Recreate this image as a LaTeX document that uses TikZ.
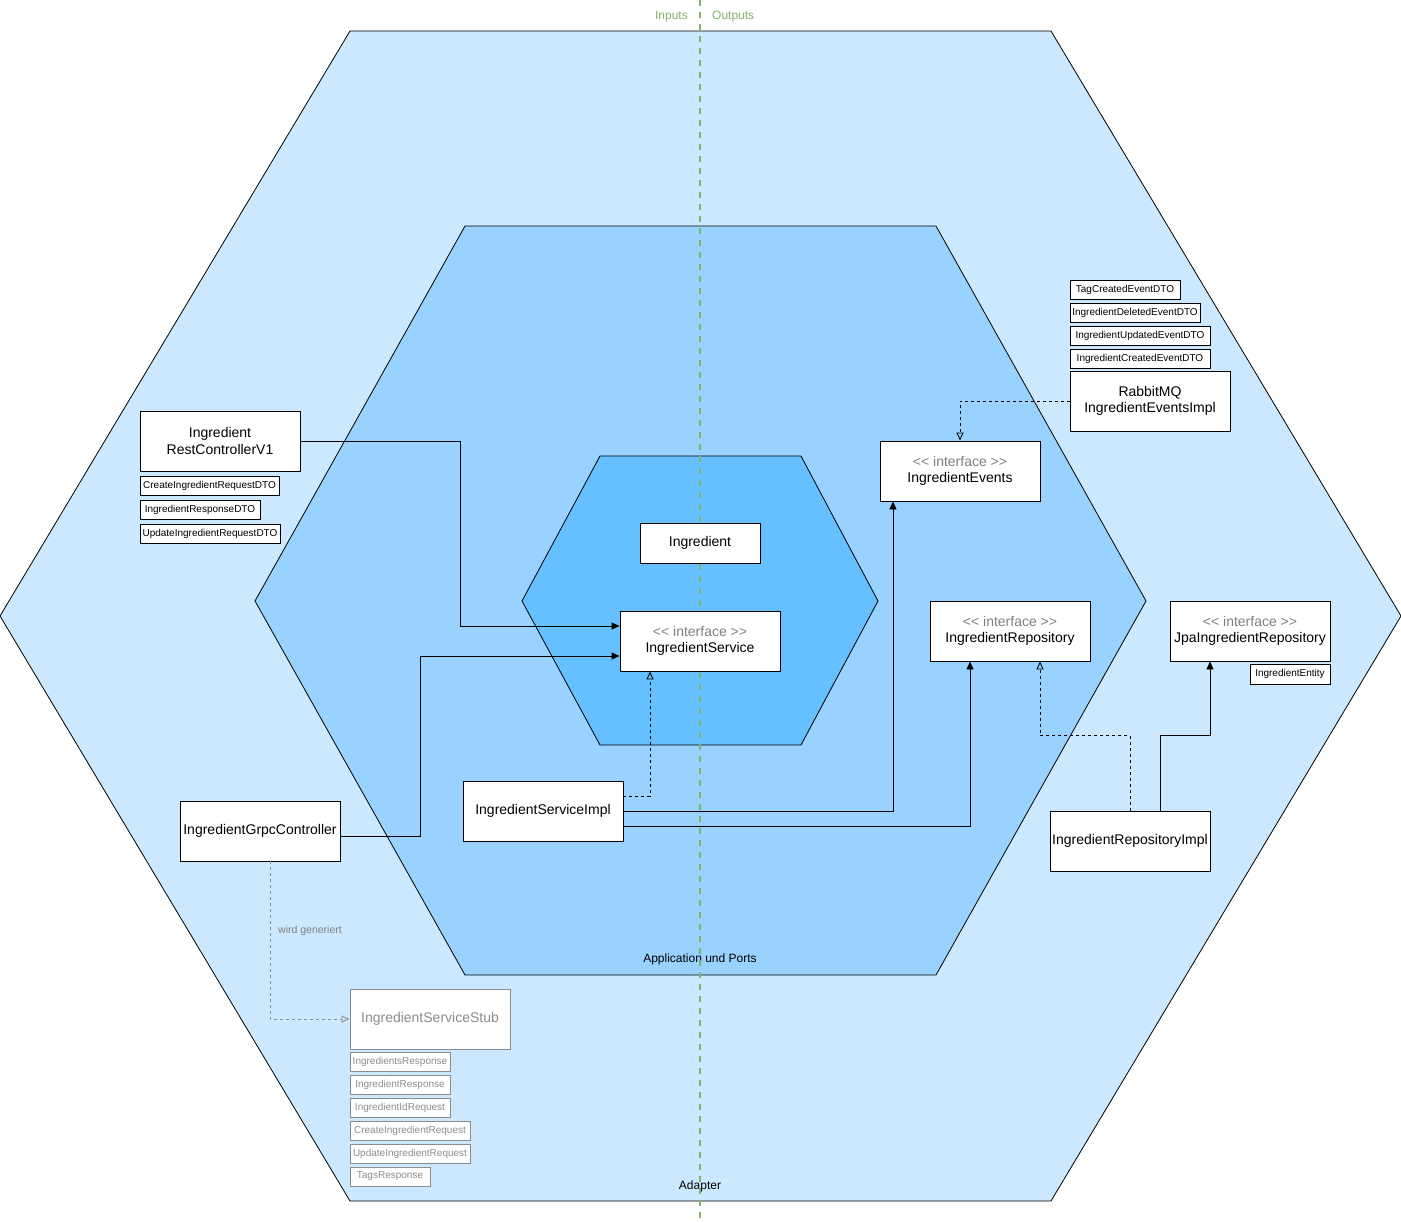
\documentclass[tikz,border=0pt]{standalone}
\usepackage{fontspec}
\setmainfont{Liberation Sans}
\usetikzlibrary{arrows.meta,calc}
\definecolor{outerblue}{RGB}{204,232,255}
\definecolor{midblue}{RGB}{153,209,255}
\definecolor{innerblue}{RGB}{102,191,255}
\definecolor{greenline}{RGB}{130,179,102}
\definecolor{stereo}{RGB}{128,128,128}
\definecolor{stubgray}{RGB}{140,140,140}
\tikzset{
  hexa/.style={draw=black,line width=0.8pt},
  cls/.style={draw=black,fill=white,line width=0.9pt,minimum width=160pt,minimum height=60pt,inner sep=0pt,align=center,font=\fontsize{14}{16.5}\selectfont},
  dto/.style={draw=black,fill=white,line width=0.9pt,minimum height=19pt,inner sep=0pt,font=\fontsize{10}{12}\selectfont},
  stubcls/.style={cls,draw=stubgray,text=stubgray},
  stubdto/.style={dto,draw=stubgray,text=stubgray},
  arr/.style={draw=black,line width=0.9pt,-{Triangle[length=8pt,width=7pt]}},
  impl/.style={draw=black,line width=0.9pt,dash pattern=on 3pt off 3pt,-{Triangle[open,length=8pt,width=7pt]}},
  gen/.style={draw=stubgray,line width=0.9pt,dash pattern=on 3pt off 3pt,-{Triangle[open,length=8pt,width=7pt]}},
  lbl/.style={inner sep=0pt,font=\fontsize{12}{14}\selectfont},
}
\newcommand{\stereotxt}[1]{{\color{stereo}<{}< interface >{}>}\\#1}
\begin{document}
\begin{tikzpicture}[x=1pt,y=-1pt]
\useasboundingbox (0,0) rectangle (1401,1223);
% hexagons
\path[hexa,fill=outerblue] (350,31) -- (1051,31) -- (1401,616) -- (1051,1201) -- (350,1201) -- (0,616) -- cycle;
\path[hexa,fill=midblue] (465,226) -- (936,226) -- (1146,601) -- (936,975) -- (465,975) -- (255,601) -- cycle;
\path[hexa,fill=innerblue] (600,456) -- (801,456) -- (878,601) -- (801,745) -- (600,745) -- (522,601) -- cycle;

\node[lbl] (applbl) at (700,959) {Application und Ports};
\node[lbl] (adaplbl) at (700,1186) {Adapter};

% inputs / outputs divider
\coordinate (dtop) at (700,0);
\coordinate (dbot) at (700,1223);
\draw[greenline,line width=2pt,dash pattern=on 6pt off 6pt] (dtop) -- (dbot);
\node[lbl,text=greenline,anchor=east] (inlbl) at (688,17) {Inputs};
\node[lbl,text=greenline,anchor=west] (outlbl) at (712,17) {Outputs};

% classes
\node[cls] (rest) at (220,441) {Ingredient\\RestControllerV1};
\node[dto,minimum width=139pt] (d1) at (209.5,485.5) {CreateIngredientRequestDTO};
\node[dto,minimum width=120pt] (d2) at (200,509.5) {IngredientResponseDTO};
\node[dto,minimum width=140pt] (d3) at (210,533.5) {UpdateIngredientRequestDTO};

\node[dto,minimum width=110pt] (e1) at (1125,289.5) {TagCreatedEventDTO};
\node[dto,minimum width=130pt] (e2) at (1135,312.5) {IngredientDeletedEventDTO};
\node[dto,minimum width=140pt] (e3) at (1140,335.5) {IngredientUpdatedEventDTO};
\node[dto,minimum width=140pt] (e4) at (1140,358.5) {IngredientCreatedEventDTO};
\node[cls] (rabbit) at (1150,401) {RabbitMQ\\IngredientEventsImpl};

\node[cls] (events) at (960,471) {\stereotxt{IngredientEvents}};
\node[cls,minimum width=120pt,minimum height=40pt] (ingr) at (700,543) {Ingredient};
\node[cls] (svc) at (700,641) {\stereotxt{IngredientService}};
\node[cls] (repo) at (1010,631) {\stereotxt{IngredientRepository}};
\node[cls] (jpa) at (1250,631) {\stereotxt{JpaIngredientRepository}};
\node[dto,minimum width=80pt,minimum height=20pt] (entity) at (1290,674) {IngredientEntity};

\node[cls] (simpl) at (543,811) {IngredientServiceImpl};
\node[cls] (grpc) at (260,831) {IngredientGrpcController};
\node[cls] (rimpl) at (1130,841) {IngredientRepositoryImpl};

\node[stubcls] (stub) at (430,1019) {IngredientServiceStub};
\node[stubdto,minimum width=100pt] (s1) at (400,1061.5) {IngredientsResponse};
\node[stubdto,minimum width=100pt] (s2) at (400,1084.5) {IngredientResponse};
\node[stubdto,minimum width=100pt] (s3) at (400,1107.5) {IngredientIdRequest};
\node[stubdto,minimum width=120pt] (s4) at (410,1130.5) {CreateIngredientRequest};
\node[stubdto,minimum width=120pt] (s5) at (410,1153.5) {UpdateIngredientRequest};
\node[stubdto,minimum width=80pt] (s6) at (390,1176.5) {TagsResponse};

% connectors
\draw[arr] (rest.east) -- ++(160,0) |- ([yshift=15pt]svc.west);
\draw[arr] ([yshift=-5pt]grpc.east) -- ++(80,0) |- ([yshift=-15pt]svc.west);
\draw[impl] ([yshift=15pt]simpl.east) -| ([xshift=-50pt]svc.south);
\draw[arr] (simpl.east) -| ([xshift=-67pt]events.south);
\draw[arr] ([yshift=-15pt]simpl.east) -| ([xshift=-40pt]repo.south);
\draw[impl] (rabbit.west) -| (events.north);
\draw[impl] (rimpl.north) -- ++(0,-75) -| ([xshift=30pt]repo.south);
\draw[arr] ([xshift=30pt]rimpl.north) -- ++(0,-75) -| ([xshift=-40pt]jpa.south);
\draw[gen] ([xshift=10pt]grpc.south) |- (stub.west);
\node[inner sep=0pt,anchor=west,text=stereo,font=\fontsize{10.5}{12}\selectfont] (genlbl) at (278,931) {wird generiert};
\end{tikzpicture}
\end{document}
